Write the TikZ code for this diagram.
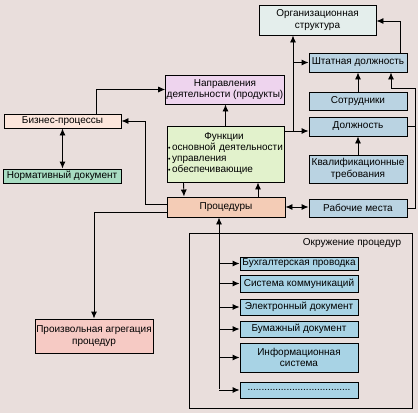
\documentclass[tikz,border=0pt]{standalone}
\usepackage{fontspec}
\setmainfont{Liberation Sans}
\usetikzlibrary{arrows.meta}
\definecolor{bgcol}{HTML}{E9DEDC}
\definecolor{orgcol}{HTML}{E4EEEC}
\definecolor{staffcol}{HTML}{BAD3E2}
\definecolor{envcol}{HTML}{A8D3E5}
\definecolor{naprcol}{HTML}{EED4EE}
\definecolor{funkcol}{HTML}{E2F2CC}
\definecolor{proccol}{HTML}{F4CCB6}
\definecolor{bizcol}{HTML}{FCE6DC}
\definecolor{normcol}{HTML}{A8DCC2}
\definecolor{aggrcol}{HTML}{F6CAC4}
\newcommand{\bul}{\mbox{\scriptsize\textbullet}\,}
\tikzset{> = {Latex[length=7pt,width=6pt]}}
\tikzset{
  box/.style={draw, line width=0.9pt, inner sep=1pt, align=center,
    font=\fontsize{10}{11.5}\selectfont},
  staffbox/.style={box, fill=staffcol, minimum width=98pt},
  envbox/.style={box, fill=envcol, minimum width=118pt, inner ysep=0pt},
  link/.style={line width=0.9pt}
}
\begin{document}
\begin{tikzpicture}[x=1pt, y=-1pt]
\fill[bgcol] (0,0) rectangle (418,413);
% nodes
\node[box, fill=orgcol, minimum width=117pt, minimum height=30pt] (org) at (317.5,20) {Организационная\\структура};
\node[staffbox, minimum height=19pt] (shtat) at (358,62.5) {Штатная должность};
\node[staffbox, minimum height=18pt] (sotr) at (358,101) {Сотрудники};
\node[staffbox, minimum height=19pt] (dolzh) at (358,126.5) {Должность};
\node[staffbox, minimum height=28pt] (kval) at (358,169) {Квалификационные\\требования};
\node[staffbox, minimum height=18pt] (rab) at (358,208) {Рабочие места};
\node[box, fill=naprcol, minimum width=116pt, minimum height=29pt] (napr) at (225,89.5) {Направления\\деятельности (продукты)};
\node[box, fill=funkcol, minimum width=117pt, minimum height=56pt, text width=115pt, inner xsep=0.5pt, align=left,
  font=\fontsize{10}{11}\selectfont] (funk) at (225.5,154)
  {\makebox[112pt]{Функции}\\\mbox{\bul основной деятельности}\\\bul управления\\\bul обеспечивающие};
\node[box, fill=proccol, minimum width=118pt, minimum height=20pt] (proc) at (226,207) {Процедуры};
\node[box, fill=bizcol, minimum width=117pt, minimum height=14pt, inner ysep=0pt] (biz) at (62.5,121) {Бизнес-процессы};
\node[box, fill=normcol, minimum width=118pt, minimum height=14pt, inner ysep=0pt] (norm) at (62,176) {Нормативный документ};
\node[box, fill=aggrcol, minimum width=118pt, minimum height=34pt] (aggr) at (94,336) {Произвольная агрегация\\процедур};
% environment
\draw[line width=0.9pt] (189,233) rectangle (412,408);
\node[font=\fontsize{10}{11.5}\selectfont] (envlabel) at (352,243) {Окружение процедур};
\node[envbox, minimum height=13pt] (buh) at (299,263.5) {Бухгалтерская проводка};
\node[envbox, minimum height=17pt] (sys) at (299,283.5) {Система коммуникаций};
\node[envbox, minimum height=16pt] (el) at (299,307) {Электронный документ};
\node[envbox, minimum height=16pt] (bum) at (299,329) {Бумажный документ};
\node[envbox, minimum height=29pt] (inf) at (299,357.5) {Информационная\\система};
\node[envbox, minimum height=16pt] (etc) at (299,390) {.....................................};
% edges
\coordinate (fj) at (293,131);
\coordinate (rb) at (415,88);
\coordinate (tr) at (219,389);
\draw[link, <->] (biz.south) -- (biz.south |- norm.north);
\draw[link, ->] ([xshift=34pt]biz.north) |- (napr.west);
\draw[link, ->] ([yshift=3pt]proc.west) -- ++(-21,0) |- (biz.east);
\draw[link, ->] ([yshift=-5pt]proc.west) -| (aggr.north);
\draw[link, ->] (funk.north) -- (funk.north |- napr.south);
\draw[link, ->] ([xshift=-42pt]funk.south) -- ([xshift=-42pt]proc.north);
\draw[link, ->] ([xshift=32pt]proc.north) -- ([xshift=32pt]proc.north |- funk.south);
\draw[link] (funk.east |- fj) -- (fj);
\draw[link, ->] (fj) -- (dolzh.west |- fj);
\draw[link, ->] (fj) -- (fj |- org.south);
\draw[link, ->] (fj |- shtat) -- (shtat.west);
\draw[link, ->] ([xshift=42pt]shtat.north) |- ([yshift=-1pt]org.east);
\draw[link, ->] (sotr.north) -- (shtat.south);
\draw[link, ->] (kval.north) -- (dolzh.south);
\draw[link, ->] (rab.east) -| (rb) -| ([xshift=33pt]shtat.south);
\draw[link] (dolzh.east) -- (dolzh.east -| rb);
\draw[link, <->] (proc.east) -- (proc.east -| rab.west);
\draw[link, ->] (tr) -- (tr |- proc.south);
\foreach \n in {buh, sys, el, bum, inf, etc}
  \draw[link, ->] (tr |- \n) -- (\n.west);
\end{tikzpicture}
\end{document}
